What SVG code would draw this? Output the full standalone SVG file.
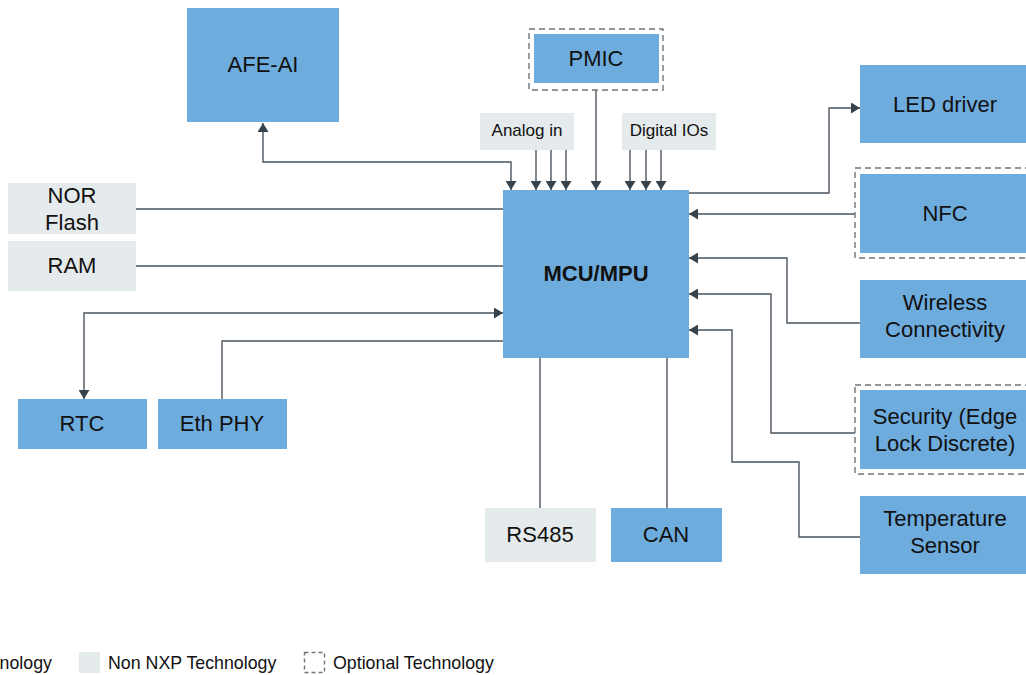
<svg xmlns="http://www.w3.org/2000/svg" width="1026" height="675" viewBox="0 0 1026 675">
<style>
.nxp{fill:#6eacdd}
.non{fill:#e5eaec}
.opt{fill:none;stroke:#6f7478;stroke-width:1.4;stroke-dasharray:6,4}
.t{font-family:"Liberation Sans",Arial,sans-serif;font-size:22px;fill:#111;text-anchor:middle}
.s{font-family:"Liberation Sans",Arial,sans-serif;font-size:17px;fill:#111;text-anchor:middle}
.lg{font-family:"Liberation Sans",Arial,sans-serif;font-size:17.8px;fill:#111}
.b{font-weight:bold}
.c{fill:none;stroke:#4a555e;stroke-width:1.4}
</style>
<defs>
<marker id="ah" viewBox="0 0 9 11" refX="9" refY="5.5" markerWidth="9" markerHeight="11" markerUnits="userSpaceOnUse" orient="auto-start-reverse">
<path d="M0,0 L9,5.5 L0,11 z" fill="#36434d"/>
</marker>
</defs>
<rect width="1026" height="675" fill="#ffffff"/>

<g id="connectors">
<path class="c" d="M263,123 V162 H511 V190" marker-start="url(#ah)" marker-end="url(#ah)"/>
<path class="c" d="M536,150 V190" marker-end="url(#ah)"/>
<path class="c" d="M551,150 V190" marker-end="url(#ah)"/>
<path class="c" d="M566,150 V190" marker-end="url(#ah)"/>
<path class="c" d="M596,90 V190" marker-end="url(#ah)"/>
<path class="c" d="M630,150 V190" marker-end="url(#ah)"/>
<path class="c" d="M646,150 V190" marker-end="url(#ah)"/>
<path class="c" d="M661,150 V190" marker-end="url(#ah)"/>
<path class="c" d="M689,193 H829 V108 H860" marker-end="url(#ah)"/>
<path class="c" d="M855,214 H689" marker-end="url(#ah)"/>
<path class="c" d="M860,323 H787 V258 H689" marker-end="url(#ah)"/>
<path class="c" d="M855,433 H771 V294 H689" marker-end="url(#ah)"/>
<path class="c" d="M860,537 H799 V462 H732 V330 H689" marker-end="url(#ah)"/>
<path class="c" d="M136,209 H503"/>
<path class="c" d="M136,266 H503"/>
<path class="c" d="M84,399 V313 H503" marker-start="url(#ah)" marker-end="url(#ah)"/>
<path class="c" d="M503,341 H222 V399"/>
<path class="c" d="M540,358 V508"/>
<path class="c" d="M667,358 V508"/>
</g>

<g id="mcu">
<rect class="nxp" x="503" y="190" width="186" height="168"/>
<text class="t b" x="596" y="281">MCU/MPU</text>
</g>
<g id="afe">
<rect class="nxp" x="187" y="8" width="152" height="114"/>
<text class="t" x="263" y="72">AFE-AI</text>
</g>
<g id="pmic">
<rect class="opt" x="529" y="29" width="134" height="61"/>
<rect class="nxp" x="534" y="34" width="125" height="49"/>
<text class="t" x="596" y="66">PMIC</text>
</g>
<g id="analog">
<rect class="non" x="480" y="113" width="94" height="37"/>
<text class="s" x="527" y="136">Analog in</text>
</g>
<g id="digital">
<rect class="non" x="622" y="113" width="94" height="37"/>
<text class="s" x="669" y="136">Digital IOs</text>
</g>
<g id="led">
<rect class="nxp" x="860" y="65" width="170" height="78"/>
<text class="t" x="945" y="112">LED driver</text>
</g>
<g id="nfc">
<rect class="opt" x="855" y="168" width="180" height="90"/>
<rect class="nxp" x="860" y="174" width="170" height="79"/>
<text class="t" x="945" y="221">NFC</text>
</g>
<g id="wireless">
<rect class="nxp" x="860" y="280" width="170" height="78"/>
<text class="t" x="945" y="310">Wireless</text>
<text class="t" x="945" y="337">Connectivity</text>
</g>
<g id="security">
<rect class="opt" x="855" y="385" width="180" height="89"/>
<rect class="nxp" x="860" y="390" width="170" height="79"/>
<text class="t" x="945" y="424">Security (Edge</text>
<text class="t" x="945" y="451">Lock Discrete)</text>
</g>
<g id="temperature">
<rect class="nxp" x="860" y="496" width="170" height="78"/>
<text class="t" x="945" y="526">Temperature</text>
<text class="t" x="945" y="553">Sensor</text>
</g>
<g id="nor">
<rect class="non" x="8" y="183" width="128" height="51"/>
<text class="t" x="72" y="203">NOR</text>
<text class="t" x="72" y="230">Flash</text>
</g>
<g id="ram">
<rect class="non" x="8" y="241" width="128" height="50"/>
<text class="t" x="72" y="273">RAM</text>
</g>
<g id="rtc">
<rect class="nxp" x="18" y="399" width="129" height="50"/>
<text class="t" x="82" y="431">RTC</text>
</g>
<g id="eth">
<rect class="nxp" x="158" y="399" width="129" height="50"/>
<text class="t" x="222" y="431">Eth PHY</text>
</g>
<g id="rs485">
<rect class="non" x="485" y="508" width="111" height="54"/>
<text class="t" x="540" y="542">RS485</text>
</g>
<g id="can">
<rect class="nxp" x="611" y="508" width="111" height="54"/>
<text class="t" x="666" y="542">CAN</text>
</g>

<g id="legend">
<text class="lg" x="52" y="669" text-anchor="end">nology</text>
<rect class="non" x="79" y="652" width="21" height="21"/>
<text class="lg" x="108" y="669">Non NXP Technology</text>
<rect class="opt" x="304.5" y="652.5" width="20" height="20" style="stroke-dasharray:4,3"/>
<text class="lg" x="333" y="669">Optional Technology</text>
</g>
</svg>
